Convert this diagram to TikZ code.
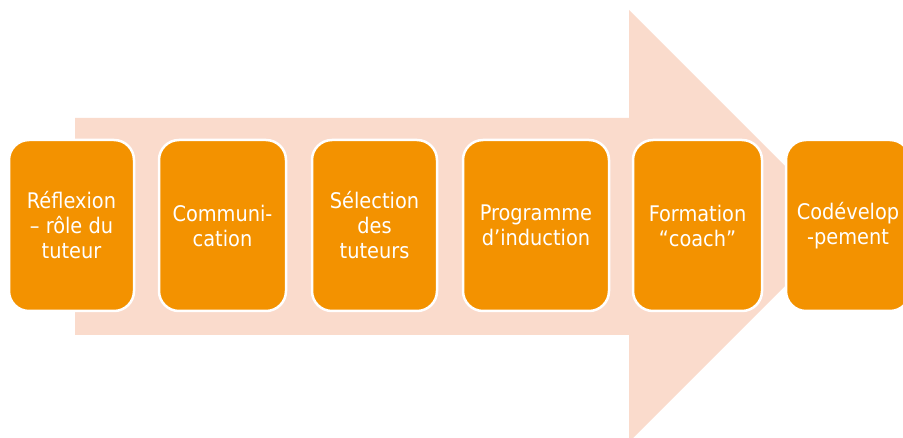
\documentclass[tikz,border=0pt]{standalone}
\usepackage{fontspec}
\setmainfont{DejaVu Sans Condensed}
\definecolor{boxorange}{HTML}{F39200}
\definecolor{peach}{HTML}{FADBCC}
\begin{document}
\begin{tikzpicture}[x=1pt,y=-1pt,
  stepbox/.style={fill=boxorange, draw=white, line width=2.5pt, rounded corners=20pt,
    minimum height=171pt, inner sep=0pt, align=center, text=white,
    font=\fontsize{21.5}{25}\selectfont}]
\useasboundingbox (0,0) rectangle (903,438);
\fill[peach] (75,118) -- (629,118) -- (629,10) -- (845,226) -- (629,442) -- (629,335) -- (75,335) -- cycle;
\node[stepbox, minimum width=125pt] (b1) at (71.5,225.5) {Réflexion\\– rôle du\\tuteur};
\node[stepbox, minimum width=127pt] (b2) at (222.5,225.5) {Communi-\\cation};
\node[stepbox, minimum width=125pt] (b3) at (374.5,225.5) {Sélection\\des\\tuteurs};
\node[stepbox, minimum width=146pt] (b4) at (536,225.5) {Programme\\d’induction};
\node[stepbox, minimum width=129pt] (b5) at (697.5,225.5) {Formation\\“coach”};
\node[stepbox, minimum width=124pt] (b6) at (848,225.5) {Codévelop\\-pement};
\end{tikzpicture}
\end{document}
